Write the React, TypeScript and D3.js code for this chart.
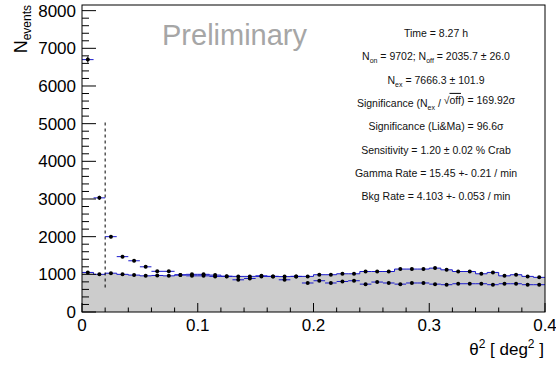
import React from "react";
import * as d3 from "d3";

const W = 556;
const H = 365;
const BIN_WIDTH = 0.01;

// theta^2 histograms, 40 bins of 0.01 deg^2
const onCounts = [
  6700, 3030, 2000, 1470, 1360, 1200, 1080, 1080, 985, 960,
  960, 945, 945, 855, 890, 945, 945, 855, 945, 770,
  830, 770, 810, 830, 740, 795, 770, 740, 770, 770,
  740, 725, 750, 750, 750, 725, 750, 750, 725, 725,
];
const offCounts = [
  1050, 1000, 1030, 1000, 980, 960, 970, 960, 985, 1000,
  1000, 980, 950, 945, 945, 960, 945, 940, 945, 945,
  990, 990, 1015, 1015, 1075, 1075, 1075, 1140, 1140, 1140,
  1165, 1120, 1075, 1075, 1015, 1050, 960, 990, 945, 920,
];

const xTicks = [0, 0.1, 0.2, 0.3, 0.4];
const xTickLabels = ["0", "0.1", "0.2", "0.3", "0.4"];
const yTicks = [0, 1000, 2000, 3000, 4000, 5000, 6000, 7000, 8000];
const yTickLabels = ["0", "1000", "2000", "3000", "4000", "5000", "6000", "7000", "8000"];

const cutTheta2 = 0.02;
const cutLine = [650, 5100];

type Seg = { t: string; sub?: boolean; root?: boolean };
const statLines: Seg[][] = [
  [{ t: "Time = 8.27 h" }],
  [{ t: "N" }, { t: "on", sub: true }, { t: " = 9702; N" }, { t: "off", sub: true }, { t: " = 2035.7 ± 26.0" }],
  [{ t: "N" }, { t: "ex", sub: true }, { t: " = 7666.3 ± 101.9" }],
  [{ t: "Significance (N" }, { t: "ex", sub: true }, { t: " / " }, { t: "off", root: true }, { t: ") = 169.92σ" }],
  [{ t: "Significance (Li&Ma) = 96.6σ" }],
  [{ t: "Sensitivity = 1.20 ± 0.02 % Crab" }],
  [{ t: "Gamma Rate = 15.45 +- 0.21 / min" }],
  [{ t: "Bkg Rate = 4.103 +- 0.053 / min" }],
];

const FONT = "'Liberation Sans', Arial, Helvetica, sans-serif";
const BLUE = "#1a1acc";

export default function App() {
  const m = { left: 82, right: 545, top: 5, bottom: 312 };
  const x = d3.scaleLinear().domain([0, 0.4]).range([m.left, m.right]);
  const y = d3.scaleLinear().domain([0, 8150]).range([m.bottom, m.top]);

  const offPts: [number, number][] = offCounts.map((v, i) => [i * BIN_WIDTH, v]);
  offPts.push([offCounts.length * BIN_WIDTH, offCounts[offCounts.length - 1]]);

  const area = d3
    .area<[number, number]>()
    .x((d) => x(d[0]))
    .y0(y(0))
    .y1((d) => y(d[1]))
    .curve(d3.curveStepAfter);
  const line = d3
    .line<[number, number]>()
    .x((d) => x(d[0]))
    .y((d) => y(d[1]))
    .curve(d3.curveStepAfter);

  const xMinor = d3.range(0, 0.4001, 0.02);
  const yMinor = d3.range(0, 8001, 200);

  const statX = 436;

  return (
    <svg
      width={W}
      height={H}
      style={{ position: "absolute", left: 0, top: 0, background: "#fff" }}
      fontFamily={FONT}
    >
      {/* OFF histogram */}
      <path d={area(offPts) ?? ""} fill="#cccccc" />
      <path d={line(offPts) ?? ""} fill="none" stroke={BLUE} strokeWidth={1} />

      {/* cut line */}
      <line
        x1={x(cutTheta2)}
        x2={x(cutTheta2)}
        y1={y(cutLine[0])}
        y2={y(cutLine[1])}
        stroke="#000"
        strokeDasharray="3,3"
      />

      {/* OFF markers */}
      {offCounts.map((v, i) => {
        const cx = x((i + 0.5) * BIN_WIDTH);
        const e = Math.sqrt(v);
        return (
          <g key={"off" + i}>
            <line x1={cx} x2={cx} y1={y(v - e)} y2={y(v + e)} stroke="#000" />
            <circle cx={cx} cy={y(v)} r={2} fill="#000" />
          </g>
        );
      })}

      {/* ON points */}
      {onCounts.map((v, i) => {
        const cx = x((i + 0.5) * BIN_WIDTH);
        const e = Math.sqrt(v);
        return (
          <g key={"on" + i}>
            <line
              x1={x(i * BIN_WIDTH)}
              x2={x((i + 1) * BIN_WIDTH)}
              y1={y(v)}
              y2={y(v)}
              stroke={BLUE}
            />
            <line x1={cx} x2={cx} y1={y(v - e)} y2={y(v + e)} stroke="#000" />
            <circle cx={cx} cy={y(v)} r={2} fill="#000" />
          </g>
        );
      })}

      {/* frame */}
      <rect
        x={m.left}
        y={m.top}
        width={m.right - m.left}
        height={m.bottom - m.top}
        fill="none"
        stroke="#000"
      />

      {/* x axis ticks */}
      {xMinor.map((t, i) => (
        <line
          key={"xm" + i}
          x1={x(t)}
          x2={x(t)}
          y1={m.bottom}
          y2={m.bottom - (i % 5 === 0 ? 9 : 4.5)}
          stroke="#000"
        />
      ))}
      {xTicks.map((t, i) => (
        <text
          key={"xl" + i}
          x={x(t)}
          y={331}
          fontSize={17}
          textAnchor="middle"
          fill="#000"
        >
          {xTickLabels[i]}
        </text>
      ))}

      {/* y axis ticks */}
      {yMinor.map((t, i) => (
        <line
          key={"ym" + i}
          x1={m.left}
          x2={m.left + (i % 5 === 0 ? 14 : 7)}
          y1={y(t)}
          y2={y(t)}
          stroke="#000"
        />
      ))}
      {yTicks.map((t, i) => (
        <text
          key={"yl" + i}
          x={76}
          y={y(t) + 6}
          fontSize={17}
          textAnchor="end"
          fill="#000"
        >
          {yTickLabels[i]}
        </text>
      ))}

      {/* axis titles */}
      <text x={544} y={355} fontSize={17} textAnchor="end" fill="#000">
        θ<tspan dy={-7} fontSize={12}>2</tspan>
        <tspan dy={7}> [ deg</tspan>
        <tspan dy={-7} fontSize={12}>2</tspan>
        <tspan dy={7}> ]</tspan>
      </text>
      <text
        transform={`translate(27,${m.top}) rotate(-90)`}
        fontSize={18}
        textAnchor="end"
        fill="#000"
      >
        N<tspan dy={4} fontSize={12}>events</tspan>
      </text>

      {/* Preliminary */}
      <text x={162} y={45} fontSize={29} fill="#a6a6a6">
        Preliminary
      </text>

      {/* stats */}
      {statLines.map((segs, li) => (
        <text
          key={"st" + li}
          x={statX}
          y={37 + li * 23.3}
          fontSize={10.5}
          textAnchor="middle"
          fill="#111"
        >
          {segs.map((s, si) => {
            if (s.sub)
              return (
                <tspan key={si} dy={3} fontSize={7}>
                  {s.t}
                </tspan>
              );
            if (s.root)
              return (
                <tspan key={si} dy={-3}>
                  √<tspan style={{ textDecoration: "overline" }}>{s.t}</tspan>
                </tspan>
              );
            const prevSub = si > 0 && segs[si - 1].sub;
            return (
              <tspan key={si} dy={prevSub ? -3 : 0}>
                {s.t}
              </tspan>
            );
          })}
        </text>
      ))}
    </svg>
  );
}
